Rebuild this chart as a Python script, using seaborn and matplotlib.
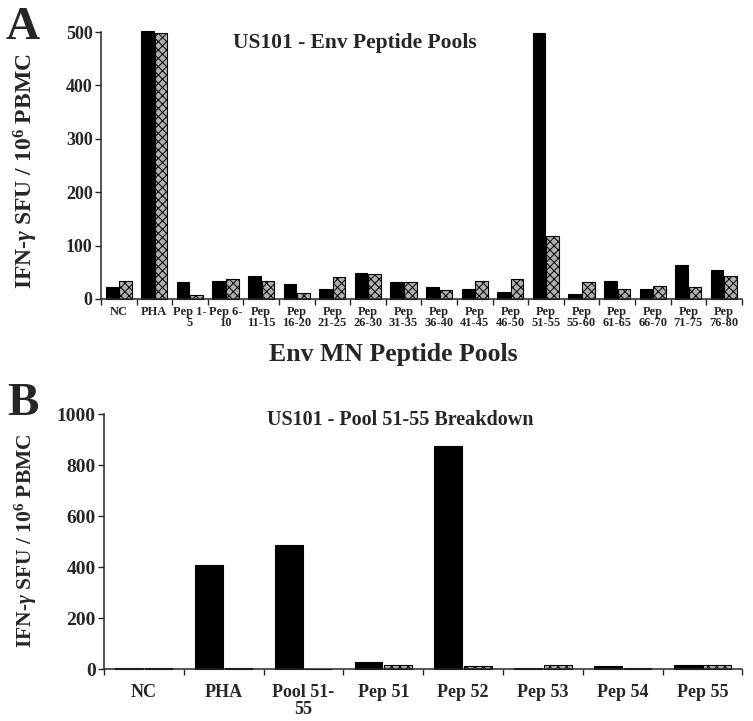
import numpy as np
import pandas as pd
import matplotlib
matplotlib.use("Agg")
import matplotlib.pyplot as plt
import seaborn as sns

# panel A - Env peptide pools
pools_a = ['NC', 'PHA', 'Pep 1-\n5', 'Pep 6-\n10', 'Pep\n11-15', 'Pep\n16-20',
           'Pep\n21-25', 'Pep\n26-30', 'Pep\n31-35', 'Pep\n36-40', 'Pep\n41-45',
           'Pep\n46-50', 'Pep\n51-55', 'Pep\n55-60', 'Pep\n61-65', 'Pep\n66-70',
           'Pep\n71-75', 'Pep\n76-80']
black_a = [22, 502, 32, 34, 44, 28, 18, 48, 31, 22, 18, 14, 498, 9, 34, 19, 64, 54]
grey_a = [34, 499, 7, 38, 34, 11, 41, 46, 32, 16, 34, 38, 118, 32, 19, 25, 23, 44]

# panel B - pool 51-55 breakdown
pools_b = ['NC', 'PHA', 'Pool 51-\n55', 'Pep 51', 'Pep 52', 'Pep 53', 'Pep 54', 'Pep 55']
black_b = [5, 408, 486, 27, 877, 5, 10, 17]
grey_b = [5, 5, 0, 14, 13, 17, 5, 14]

series = ['Series 1', 'Series 2']

sns.set_style("ticks")
plt.rcParams['font.family'] = ['Liberation Serif', 'DejaVu Serif']
plt.rcParams['font.weight'] = 'bold'
plt.rcParams['mathtext.fontset'] = 'custom'
plt.rcParams['mathtext.rm'] = 'Liberation Serif'
plt.rcParams['mathtext.it'] = 'Liberation Serif:italic'
plt.rcParams['mathtext.bf'] = 'Liberation Serif:bold'
plt.rcParams['hatch.color'] = 'black'
plt.rcParams['hatch.linewidth'] = 0.7


def long_df(cats, s1, s2):
    return pd.DataFrame({
        'pool': cats * 2,
        'series': [series[0]] * len(cats) + [series[1]] * len(cats),
        'sfu': s1 + s2,
    })


def draw_panel(ax, df, cats, width, ymax, ystep, xfs, yfs, pad):
    sns.barplot(data=df, x='pool', y='sfu', hue='series', order=cats,
                hue_order=series, palette=['black', '#b0b0b0'], width=width,
                gap=0.06, saturation=1, legend=False, ax=ax)
    for p in ax.containers[0]:
        p.set_edgecolor('black')
        p.set_linewidth(0.8)
    for p in ax.containers[1]:
        p.set_hatch('xxxx')
        p.set_edgecolor('black')
        p.set_linewidth(0.8)
    for c in ax.containers:
        for p in c:
            p.set_clip_on(False)
    n = len(cats)
    ax.set_xlim(-0.5, n - 0.5)
    ax.set_ylim(0, ymax)
    ax.set_yticks(np.arange(0, ymax + 1, ystep))
    ax.set_xticks(np.arange(n))
    ax.set_xticklabels(cats, fontsize=xfs, fontweight='bold', linespacing=0.95)
    ax.set_xticks(np.arange(-0.5, n, 1), minor=True)
    ax.tick_params(axis='x', which='major', length=0, pad=pad)
    ax.tick_params(axis='x', which='minor', length=4, width=1, direction='out')
    ax.tick_params(axis='y', length=4, width=1, direction='out', labelsize=yfs, pad=2)
    for lab in ax.get_yticklabels():
        lab.set_fontweight('bold')
    sns.despine(ax=ax)
    for s in ['left', 'bottom']:
        ax.spines[s].set_linewidth(1.1)
    ax.set_xlabel('')
    ax.set_ylabel('')


fig = plt.figure(figsize=(7.53, 7.21), dpi=100)
ax1 = fig.add_axes([0.134, 0.5853, 0.851, 0.3703])
ax2 = fig.add_axes([0.138, 0.0721, 0.848, 0.3533])

draw_panel(ax1, long_df(pools_a, black_a, grey_a), pools_a, 0.76, 500, 100, 9, 13, 5)
draw_panel(ax2, long_df(pools_b, black_b, grey_b), pools_b, 0.74, 1000, 200, 13, 14, 11)

ylab = r'IFN-$\gamma$ SFU / 10$^{\mathbf{6}}$ PBMC'
fig.text(0.034, 1 - 171 / 721, ylab, rotation=90, ha='center', va='center',
         fontsize=17, fontweight='bold')
fig.text(0.034, 1 - 541 / 721, ylab, rotation=90, ha='center', va='center',
         fontsize=15.5, fontweight='bold')

fig.text(355 / 753, 1 - 43 / 721, 'US101 - Env Peptide Pools', ha='center', va='center',
         fontsize=15.5, fontweight='bold')
fig.text(400 / 753, 1 - 420 / 721, 'US101 - Pool 51-55 Breakdown', ha='center', va='center',
         fontsize=14.5, fontweight='bold')
fig.text(393 / 753, 1 - 355 / 721, 'Env MN Peptide Pools', ha='center', va='center',
         fontsize=18.5, fontweight='bold')

fig.text(23 / 753, 1 - 28 / 721, 'A', ha='center', va='center', fontsize=34, fontweight='bold')
fig.text(23 / 753, 1 - 404 / 721, 'B', ha='center', va='center', fontsize=34, fontweight='bold')

fig.savefig('out.png', dpi=100)
